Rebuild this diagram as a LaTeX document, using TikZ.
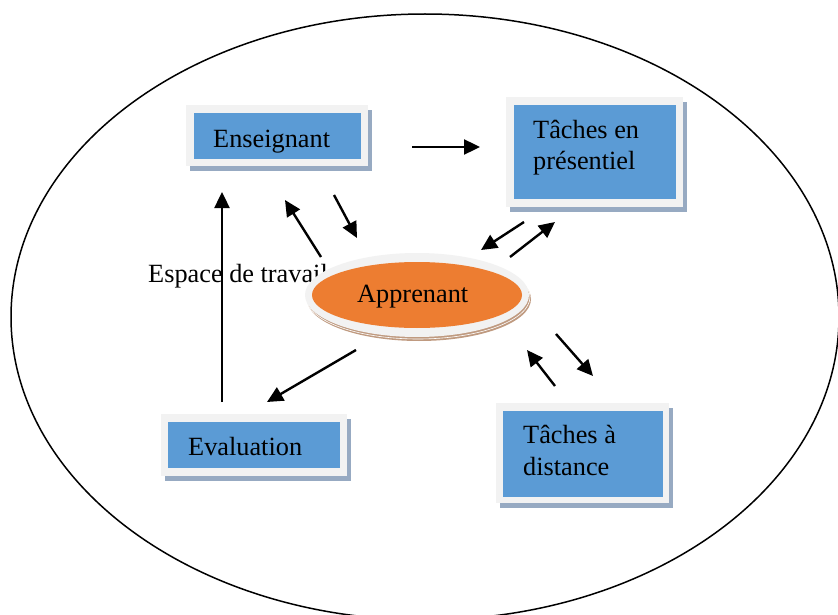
\documentclass[tikz,border=0pt]{standalone}
\usepackage{fontspec}
\setmainfont{Liberation Serif}
\usetikzlibrary{arrows.meta,shadows,shapes.geometric}
\definecolor{boxblue}{HTML}{5B9BD5}
\definecolor{framegray}{HTML}{F2F2F2}
\definecolor{shadowblue}{HTML}{97AAC2}
\definecolor{apporange}{HTML}{ED7D31}
\definecolor{appshadow}{HTML}{BF9A80}
\begin{document}
\begin{tikzpicture}[x=1pt,y=-1pt,
  frame/.style={fill=framegray, inner sep=0pt, anchor=north west,
    drop shadow={shadow xshift=4pt, shadow yshift=-5pt, fill=shadowblue, opacity=1}},
  bluebox/.style={fill=boxblue, inner sep=0pt, anchor=north west},
  lbl/.style={font=\fontsize{26.3pt}{32pt}\selectfont, inner sep=0pt, anchor=base west, align=left},
  arr/.style={line width=2.4pt, -{Triangle[length=16pt,width=15pt]}}]
\useasboundingbox (0,0) rectangle (838,615);
\clip (0,0) rectangle (838,615);
\fill[white] (0,0) rectangle (838,615);
% workspace
\draw[line width=1.5pt] (425,317) ellipse [x radius=414, y radius=303];
% boxes
\node[frame, minimum width=182pt, minimum height=61pt] (ensF) at (186,105) {};
\node[bluebox, minimum width=167pt, minimum height=46pt] (ens) at (194,113) {};
\node[lbl] (ensT) at (213,148) {Enseignant};
\node[frame, minimum width=177pt, minimum height=110pt] (presF) at (506,97) {};
\node[bluebox, minimum width=162pt, minimum height=94pt] (pres) at (514,105) {};
\node[lbl] (presT) at (533,170) {Tâches en\\présentiel};
\node[frame, minimum width=186pt, minimum height=62pt] (evalF) at (161,414) {};
\node[bluebox, minimum width=172pt, minimum height=46pt] (eval) at (168,422) {};
\node[lbl] (evalT) at (188,455) {Evaluation};
\node[frame, minimum width=173pt, minimum height=100pt] (distF) at (496,403) {};
\node[bluebox, minimum width=160pt, minimum height=86pt] (dist) at (503,411) {};
\node[lbl] (distT) at (523,475) {Tâches à\\distance};
% label
\node[lbl] (esp) at (148,282) {Espace de travail};
% arrow coordinates
\coordinate (a1s) at (412,147); \coordinate (a1e) at (480,147);
\coordinate (a2s) at (334,195); \coordinate (a2e) at (357,238);
\coordinate (a3s) at (321,257); \coordinate (a3e) at (285,200);
\coordinate (a4s) at (524,222); \coordinate (a4e) at (481,250);
\coordinate (a5s) at (510,257); \coordinate (a5e) at (555,222);
\coordinate (a6s) at (356,350); \coordinate (a6e) at (267,402);
\coordinate (a7s) at (555,386); \coordinate (a7e) at (527,350);
\coordinate (a8s) at (556,334); \coordinate (a8e) at (593,376);
\coordinate (a9s) at (222,402); \coordinate (a9e) at (222,192);
\draw[arr] (a9s) -- (a9e);
% learner
\fill[appshadow] (419,299) ellipse [x radius=112, y radius=42];
\draw[white, line width=0.6pt] (418,297) ellipse [x radius=112, y radius=42];
\fill[framegray] (417,295) ellipse [x radius=112, y radius=42];
\node[ellipse, fill=apporange, minimum width=210pt, minimum height=66pt, inner sep=0pt] (app) at (417,295) {};
\node[lbl] (appT) at (357,302) {Apprenant};
% arrows
\draw[arr] (a1s) -- (a1e);
\draw[arr] (a2s) -- (a2e);
\draw[arr] (a3s) -- (a3e);
\draw[arr] (a4s) -- (a4e);
\draw[arr] (a5s) -- (a5e);
\draw[arr] (a6s) -- (a6e);
\draw[arr] (a7s) -- (a7e);
\draw[arr] (a8s) -- (a8e);
\end{tikzpicture}
\end{document}
